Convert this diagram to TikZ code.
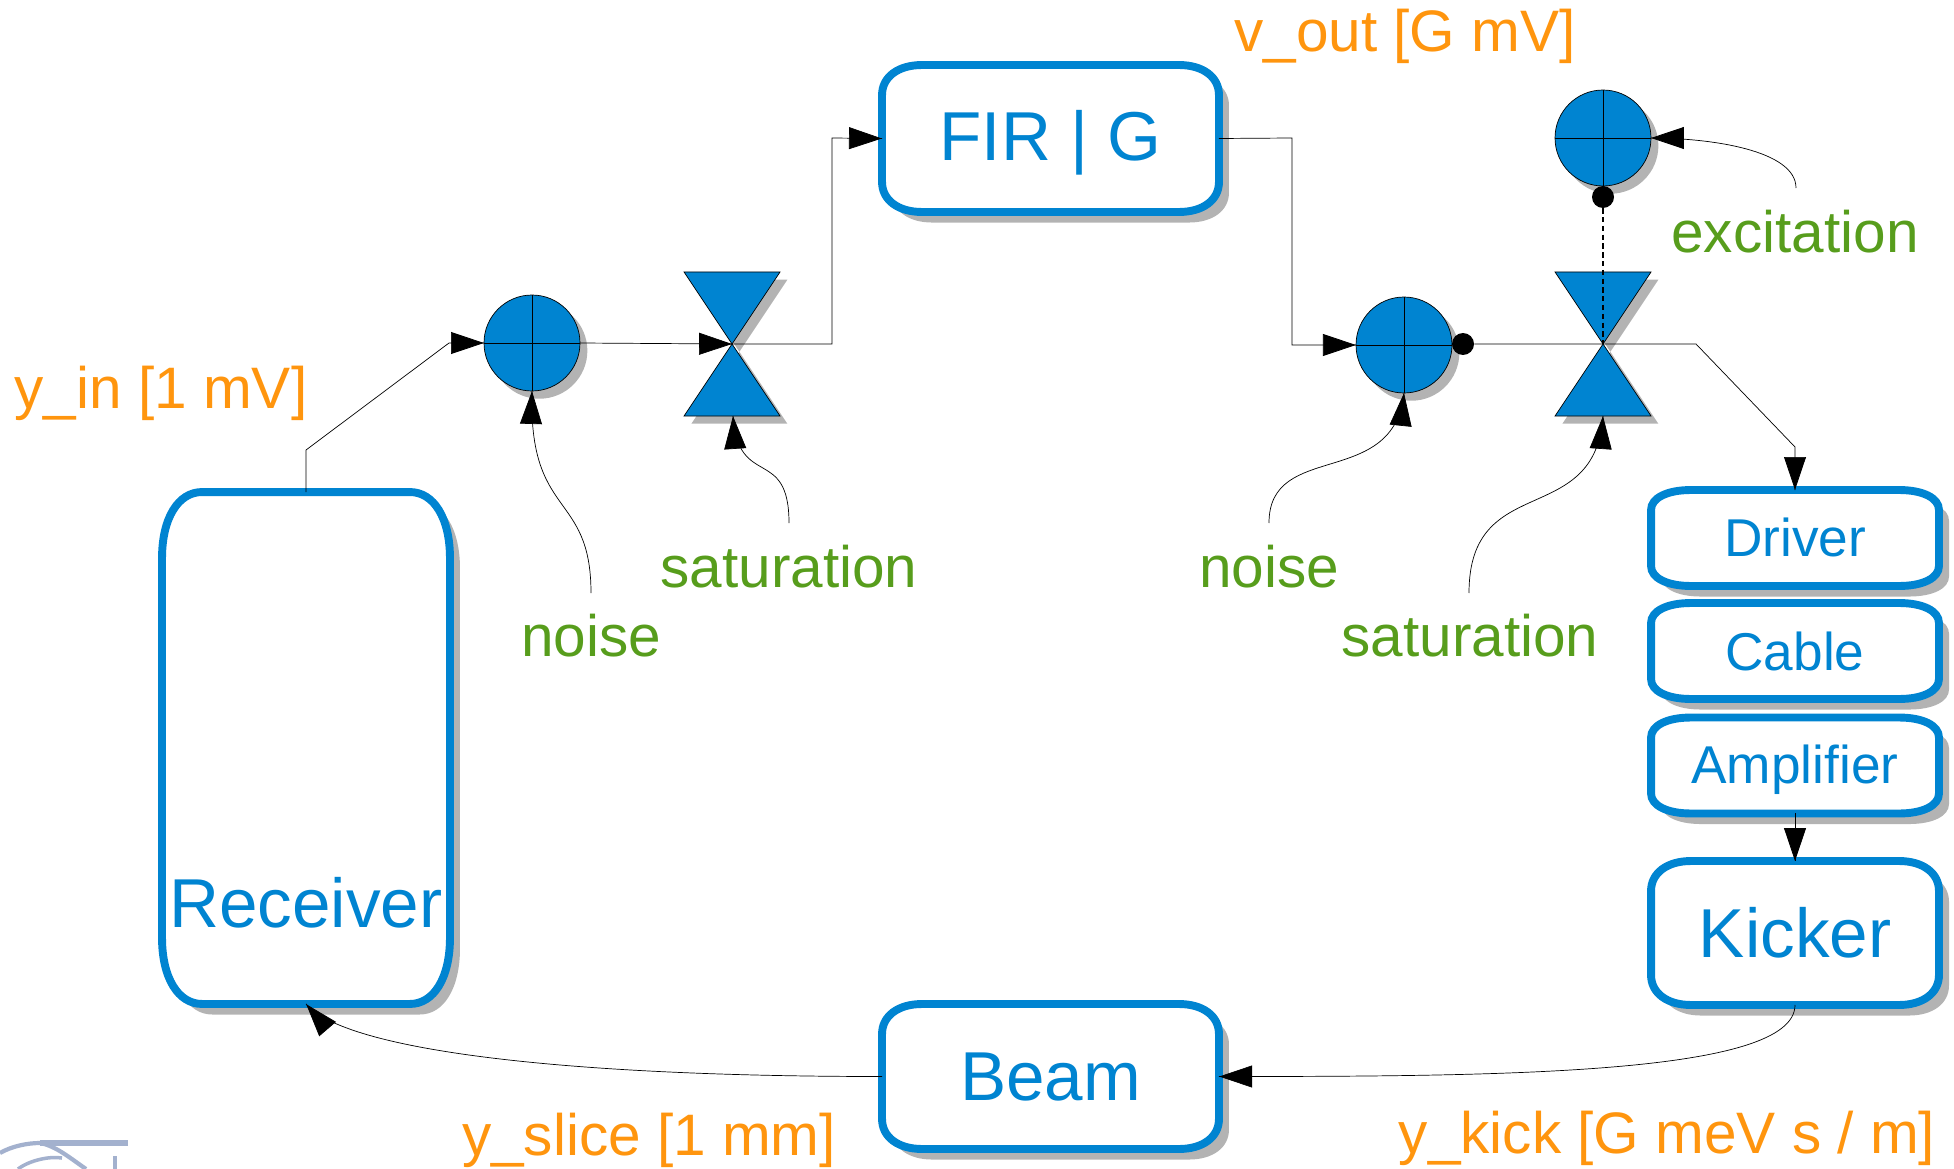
\documentclass[tikz,border=0pt]{standalone}
\usepackage{fontspec}
\setmainfont{Liberation Sans}
\usetikzlibrary{arrows.meta}
\usetikzlibrary{backgrounds}
\usetikzlibrary{calc}
\usetikzlibrary{decorations.markings}
\usetikzlibrary{shadows}
\definecolor{blockblue}{HTML}{0084D1}
\definecolor{signalorange}{HTML}{FF950E}
\definecolor{sourcegreen}{HTML}{579D1C}
\definecolor{shadowgray}{HTML}{B3B3B3}
\definecolor{logoblue}{HTML}{A3B1CE}
\tikzset{->/.style = {decoration={markings,
                                  mark=at position 0.9995 with {\arrow{Triangle[length=18.7pt,width=12.5pt]}}},
                      postaction={decorate}}}
\tikzset{circ/.style = {fill, circle, inner sep = 0, minimum size = 0.44cm}}
\tikzset{softbox/.style = {draw = blockblue, fill = white, line width = 4.5pt,
                           drop shadow = {shadow xshift = 5.7pt, shadow yshift = -6pt,
                                          fill = shadowgray, opacity = 1}}}
\tikzset{blocknode/.style = {inner sep = 0, outer sep = 0, minimum width = 5.76cm, text = blockblue,
                             font = \fontsize{39.4}{39.4}\selectfont}}
\tikzset{smallblock/.style = {blocknode, minimum height = 1.92cm, font = \fontsize{30.3}{30.3}\selectfont}}
\tikzset{sumnode/.style = {circle, draw, fill = blockblue, inner sep = 0, outer sep = 0, minimum size = 1.92cm,
                           drop shadow = {shadow xshift = 4.2pt, shadow yshift = -4.4pt,
                                          fill = shadowgray, opacity = 1},
                           path picture = {\draw (path picture bounding box.north) -- (path picture bounding box.south);
                                           \draw (path picture bounding box.west) -- (path picture bounding box.east);}}}
\tikzset{wedge/.style = {draw, fill = blockblue,
                         drop shadow = {shadow xshift = 4.2pt, shadow yshift = -4.4pt,
                                        fill = shadowgray, opacity = 1}}}
\tikzset{signal/.style = {text = signalorange, font = \fontsize{33.3}{33.3}\selectfont}}
\tikzset{source/.style = {text = sourcegreen, font = \fontsize{33.3}{33.3}\selectfont}}
\newcommand{\softpath}[3]{
  ($(#1.north west)+(#2,0)$) -- ($(#1.north east)+(-#2,0)$)
  .. controls +(.6*#2,0) and +(0,-.6*#3) .. ++(#2,#3)
  -- ($(#1.south east)+(0,-#3)$)
  .. controls +(0,.6*#3) and +(.6*#2,0) .. ++(-#2,#3)
  -- ($(#1.south west)+(#2,0)$)
  .. controls +(-.6*#2,0) and +(0,.6*#3) .. ++(-#2,-#3)
  -- ($(#1.north west)+(0,#3)$)
  .. controls +(0,-.6*#3) and +(-.6*#2,0) .. ++(#2,-#3) -- cycle}
\begin{document}
\begin{tikzpicture}[x = 0.02cm, y = -0.02cm, line width = 1pt]
    \useasboundingbox (0, 0) rectangle (1954, 1169);

    \node [blocknode, minimum width = 6.74cm, minimum height = 2.94cm] (fir) at (1050.5, 138.5) {};
    \node [blocknode] (firtext) at (1050.5, 143) {FIR | G};
    \node [blocknode, minimum width = 6.74cm, minimum height = 2.9cm] (beam) at (1050.5, 1076.5) {};
    \node [blocknode] (beamtext) at (1050.5, 1077) {Beam};
    \node [blocknode, minimum height = 10.24cm] (receiver) at (306, 748) {};
    \node [blocknode] (receivertext) at (306, 903) {Receiver};
    \node [smallblock] (driver) at (1795, 538) {};
    \node [smallblock] (drivertext) at (1795, 537) {Driver};
    \node [smallblock] (cable) at (1795, 651) {Cable};
    \node [smallblock] (amplifier) at (1795, 765.5) {};
    \node [smallblock] (amplifiertext) at (1795, 770) {Amplifier};
    \node [blocknode, minimum height = 2.88cm] (kicker) at (1795, 933) {Kicker};

    \begin{pgfonlayer}{background}
      \foreach \boxname/\rx/\ry in {fir/40/30, beam/40/30, receiver/40/66, driver/40/20,
                                    cable/40/20, amplifier/40/20, kicker/40/30} {
        \draw [softbox] \softpath{\boxname}{\rx}{\ry};
      }
    \end{pgfonlayer}

    \node [sumnode] (suma) at (532, 343) {};
    \node [sumnode] (sumb) at (1404, 345) {};
    \node [sumnode] (sumc) at (1603, 138) {};
    \node [circ] (dotb) at (1463, 344) {};
    \node [circ] (dotc) at (1603, 197) {};

    \coordinate (sata) at (732, 344);
    \coordinate (satb) at (1603, 344);
    \foreach \sat in {sata, satb} {
      \draw [wedge] (\sat) -- ++(-48, -72) -- ++(96, 0) -- cycle;
      \draw [wedge] (\sat) -- ++(-48, 72) -- ++(96, 0) -- cycle;
    }

    % labels
    \node [signal] (vout) at (1405, 36) {v\_out [G mV]};
    \node [signal] (yin) at (161, 393) {y\_in [1 mV]};
    \node [signal] (yslice) at (649, 1140) {y\_slice [1 mm]};
    \node [signal] (ykick) at (1667, 1138) {y\_kick [G meV s / m]};
    \node [source] (noisea) at (591, 636) {noise};
    \node [source] (satlabela) at (789, 567) {saturation};
    \node [source] (noiseb) at (1269, 567) {noise};
    \node [source] (satlabelb) at (1470, 636) {saturation};
    \node [source] (excitation) at (1795, 232) {excitation};

    % forward path
    \draw [->] (receiver.north) -- (306, 450) -- (449, 343) -- (suma.west);
    \draw [->] (suma.east) -- (sata);
    \draw [->] (sata) -- (832, 344) -- (832, 138) -- (fir.west);
    \draw [->] (fir.east) -- (1292, 138) -- (1292, 345) -- (sumb.west);
    \draw (sumb.east) -- (dotb) -- (satb);
    \draw [->] (satb) -- (1696, 344) -- (1795, 447) -- (driver.north);
    \draw [->] (amplifier.south) -- (kicker.north);
    \draw [->] (kicker.south) .. controls (1795, 1075) and (1500, 1076.5) .. (beam.east);
    \draw [->] (beam.west) .. controls (560, 1076.5) and (345, 1050) .. (receiver.south);
    \draw [densely dashed, line width = 0.6pt] (dotc) -- (satb);

    % disturbances
    \draw [->] (591, 593) .. controls (591, 490) and (528, 520) .. (suma.south);
    \draw [->] (789, 523) .. controls (789, 445) and (738, 490) .. (733, 416);
    \draw [->] (1269, 523) .. controls (1269, 440) and (1394, 490) .. (sumb.south);
    \draw [->] (1469, 593) .. controls (1469, 470) and (1595, 530) .. (1603, 416);
    \draw [->] (1796, 188) .. controls (1796, 150) and (1710, 138) .. (sumc.east);

    % corner of the logo
    \draw [logoblue, line width = 3pt] (128, 1143) -- (40, 1143);
    \draw [logoblue, line width = 2.4pt] (0, 1153) .. controls (12, 1146) and (28, 1143) .. (40, 1143)
                                         .. controls (56, 1146) and (70, 1158) .. (86, 1169);
    \draw [logoblue, line width = 2pt] (18, 1169) .. controls (30, 1160) and (50, 1156) .. (62, 1158);
    \draw [logoblue, line width = 2pt] (115, 1156) -- (115, 1169);
  \end{tikzpicture}
\end{document}
